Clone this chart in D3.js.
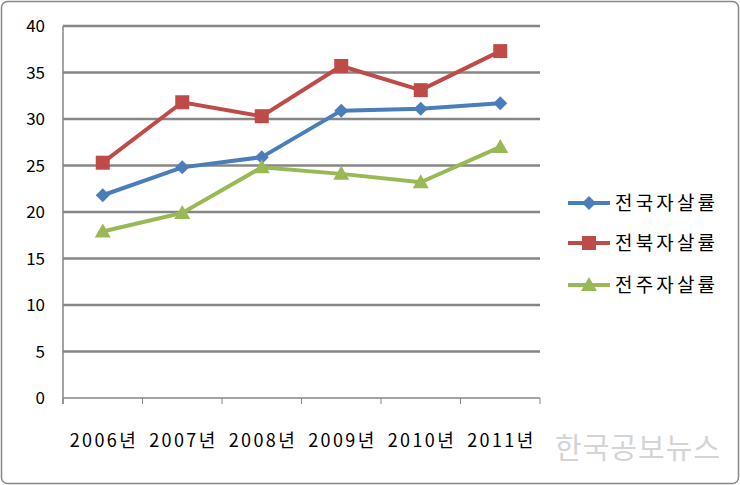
<!DOCTYPE html>
<html><head><meta charset="utf-8">
<script src="https://cdn.jsdelivr.net/npm/d3@7"></script>
<style>body{margin:0;background:#fff}</style></head>
<body><svg id="c" width="740" height="485"></svg>
<script>
const categories=["2006년","2007년","2008년","2009년","2010년","2011년"];
const seriesNames=["전국자살률","전북자살률","전주자살률"];
const national=[21.8,24.8,25.9,30.9,31.1,31.7];
const jeonbuk=[25.3,31.8,30.3,35.7,33.1,37.3];
const jeonju=[17.9,19.9,24.8,24.1,23.2,27.0];
const yTicks=[0,5,10,15,20,25,30,35,40];
const colors=["#4a7ebb","#be4b48","#98b954"];
const data=[national,jeonbuk,jeonju];
const svg=d3.select("#c");
svg.append("rect").attr("x",1.5).attr("y",1.5).attr("width",737).attr("height",482).attr("rx",6).attr("fill","#fff").attr("stroke","#888").attr("stroke-width",1.5);
const x=d3.scaleBand().domain(categories).range([63,540]);
const y=d3.scaleLinear().domain([0,40]).range([398,26]);
const f="'Noto Sans CJK KR','DejaVu Sans',sans-serif";
yTicks.forEach(t=>{
  svg.append("line").attr("x1",63).attr("x2",540).attr("y1",y(t)).attr("y2",y(t)).attr("stroke","#868686").attr("stroke-width",t===0?1.5:2.5);
  svg.append("text").attr("x",45).attr("y",y(t)+6).attr("text-anchor","end").attr("font-family",f).attr("font-size",17).attr("fill","#000").text(t);
});
svg.append("line").attr("x1",63).attr("x2",63).attr("y1",26).attr("y2",404).attr("stroke","#868686").attr("stroke-width",1.5);
categories.forEach((c,i)=>{
  svg.append("line").attr("x1",x(c)).attr("x2",x(c)).attr("y1",398).attr("y2",404).attr("stroke","#868686");
  svg.append("text").attr("x",x(c)+x.bandwidth()/2).attr("y",447).attr("text-anchor","middle").attr("font-family",f).attr("font-size",18).attr("textLength",66).attr("fill","#000").text(c);
});
svg.append("line").attr("x1",540).attr("x2",540).attr("y1",398).attr("y2",404).attr("stroke","#868686");
const cx=c=>x(c)+x.bandwidth()/2;
const line=d3.line().x((d,i)=>cx(categories[i])).y(d=>y(d));
function marker(g,k,px,py,col){
  if(k===0) g.append("path").attr("d",`M${px},${py-7}L${px+7},${py}L${px},${py+7}L${px-7},${py}Z`).attr("fill",col);
  else if(k===1) g.append("rect").attr("x",px-7).attr("y",py-7).attr("width",14).attr("height",14).attr("fill",col);
  else g.append("path").attr("d",`M${px},${py-8}L${px+8},${py+6}L${px-8},${py+6}Z`).attr("fill",col);
}
data.forEach((s,k)=>{
  svg.append("path").attr("d",line(s)).attr("fill","none").attr("stroke",colors[k]).attr("stroke-width",4);
  s.forEach((v,i)=>marker(svg,k,cx(categories[i]),y(v),colors[k]));
});
const ly=[203,243,285];
seriesNames.forEach((n,k)=>{
  svg.append("line").attr("x1",568).attr("x2",610).attr("y1",ly[k]).attr("y2",ly[k]).attr("stroke",colors[k]).attr("stroke-width",4);
  marker(svg,k,589,ly[k],colors[k]);
  svg.append("text").attr("x",615).attr("y",ly[k]+7).attr("font-family",f).attr("font-size",19).attr("textLength",100).attr("fill","#000").text(n);
});
svg.append("text").attr("x",720).attr("y",459).attr("text-anchor","end").attr("font-family",f).attr("font-size",29).attr("textLength",165).attr("fill","#d4d4d4").text("한국공보뉴스");
</script></body></html>
